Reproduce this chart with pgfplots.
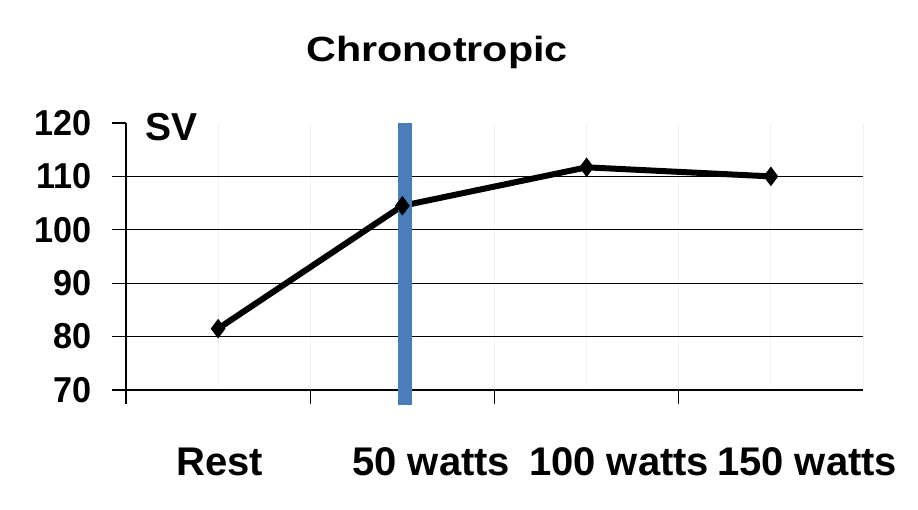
\documentclass[border=0pt]{standalone}
\usepackage{pgfplots}
\pgfplotsset{compat=1.18}
\usepackage{fontspec}
\setmainfont{Liberation Sans}
\definecolor{barblue}{HTML}{4A7EBB}
\begin{document}
\begin{tikzpicture}[x=1pt,y=1pt]
\useasboundingbox (0,0) rectangle (918,509);
\node[anchor=base, inner sep=0pt, font=\bfseries\fontsize{35}{42}\selectfont] at (437,447.5) {\scalebox{1.18}[1]{Chronotropic}};
\begin{axis}[
  at={(126pt,119pt)}, anchor=south west,
  scale only axis, width=737pt, height=267pt,
  xmin=-0.5, xmax=3.5, ymin=70, ymax=120,
  clip=false,
  axis x line=bottom, axis y line=left,
  axis line style={black, line width=1.3pt, -},
  tick align=outside,
  major tick length=14pt,
  tick style={black, line width=1.3pt},
  xtick={-0.5,0.5,1.5,2.5},
  xticklabels={},
  xmajorgrids,
  x grid style={black!5, line width=1pt},
  minor xtick={0,1,2,3,3.5},
  xminorgrids,
  minor tick length=0pt,
  minor x grid style={black!5, line width=1pt},
  ytick={70,80,90,100,110,120},
  yticklabels={{\scalebox{0.95}[1]{70}},{\scalebox{0.95}[1]{80}},{\scalebox{0.95}[1]{90}},{\scalebox{0.95}[1]{100}},{\scalebox{0.95}[1]{110}},{\scalebox{0.95}[1]{120}}},
  yticklabel style={font=\bfseries\fontsize{36}{42}\selectfont, inner sep=0pt, anchor=east, xshift=-20pt},
  extra y ticks={80,90,100,110},
  extra y tick labels={},
  extra y tick style={grid=major, major grid style={black, line width=1.3pt}},
  extra x ticks={0.01,1.157,2.177,3.197},
  extra x tick labels={Rest,50 watts,100 watts,150 watts},
  extra x tick style={major tick length=0pt, grid=none,
    xticklabel style={font=\bfseries\fontsize{40}{48}\selectfont, inner sep=0pt, anchor=base, yshift=-85pt}},
]
\addplot[black, line width=6pt, mark=diamond*, mark size=9pt, mark options={solid, line width=1pt}]
  coordinates {(0,81.5) (1,104.5) (2,111.7) (3,110)};
\addplot[barblue, line width=14pt, forget plot] coordinates {(1.015,120) (1.015,67.2)};
\node[anchor=base west, inner sep=0pt, font=\bfseries\fontsize{39}{46}\selectfont] at (rel axis cs:0.0258,0.936) {SV};
\end{axis}
\end{tikzpicture}
\end{document}
